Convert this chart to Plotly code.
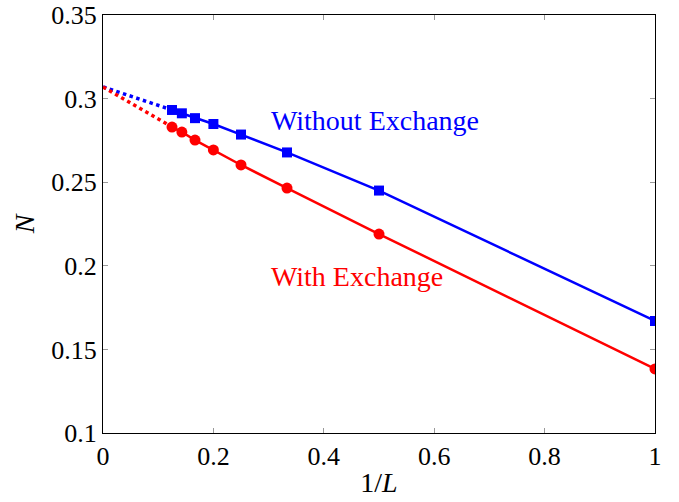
import plotly.graph_objects as go

inv_L = [1/8, 1/7, 1/6, 1/5, 1/4, 1/3, 1/2, 1]
without_exchange = [0.2932, 0.2912, 0.2883, 0.2848, 0.2785, 0.2678, 0.2450, 0.1670]
with_exchange = [0.2830, 0.2800, 0.2752, 0.2693, 0.2603, 0.2465, 0.2190, 0.1383]
extrap_x = [0, 1/8]
extrap_without = [0.3070, 0.2932]
extrap_with = [0.3070, 0.2830]

BLUE = "#0000ff"
RED = "#ff0000"
FONT = "Liberation Serif"

fig = go.Figure()
fig.add_trace(go.Scatter(x=extrap_x, y=extrap_without, mode="lines",
                         line=dict(color=BLUE, width=3.5, dash="dot"), showlegend=False))
fig.add_trace(go.Scatter(x=extrap_x, y=extrap_with, mode="lines",
                         line=dict(color=RED, width=3.5, dash="dot"), showlegend=False))
fig.add_trace(go.Scatter(x=inv_L, y=without_exchange, mode="lines+markers",
                         line=dict(color=BLUE, width=2.5),
                         marker=dict(symbol="square", size=10, color=BLUE), showlegend=False))
fig.add_trace(go.Scatter(x=inv_L, y=with_exchange, mode="lines+markers",
                         line=dict(color=RED, width=2.5),
                         marker=dict(symbol="circle", size=11, color=RED), showlegend=False))

fig.add_annotation(x=0.30, y=0.2872, text="Without Exchange", showarrow=False,
                   xanchor="left", yanchor="middle", font=dict(color=BLUE, size=28, family=FONT))
fig.add_annotation(x=0.30, y=0.1935, text="With Exchange", showarrow=False,
                   xanchor="left", yanchor="middle", font=dict(color=RED, size=28, family=FONT))

axis_common = dict(showgrid=False, zeroline=False, showline=True, linecolor="black",
                   linewidth=1, mirror="ticks", ticks="inside", ticklen=5,
                   tickcolor="#999999", ticklabeloverflow="allow", automargin=False,
                   tickfont=dict(size=26, family=FONT, color="black"))
fig.update_xaxes(range=[0, 1], tickvals=[0, 0.2, 0.4, 0.6, 0.8, 1],
                 ticktext=["0", "0.2", "0.4", "0.6", "0.8", "1"],
                 title=dict(text="1/<i>L</i>", font=dict(size=28, family=FONT), standoff=2),
                 **axis_common)
fig.update_yaxes(range=[0.1, 0.35], tickvals=[0.1, 0.15, 0.2, 0.25, 0.3, 0.35],
                 ticktext=["0.1", "0.15", "0.2", "0.25", "0.3", "0.35"],
                 title=dict(text="<i>N</i>", font=dict(size=28, family=FONT), standoff=8),
                 **axis_common)
fig.update_layout(width=679, height=502, margin=dict(l=103, r=24, t=15, b=69),
                  plot_bgcolor="white", paper_bgcolor="white",
                  font=dict(family=FONT, color="black"))
fig.write_html("out.html", config={"displayModeBar": False},
               post_script="document.body.style.margin='0';document.body.style.overflow='hidden';")
